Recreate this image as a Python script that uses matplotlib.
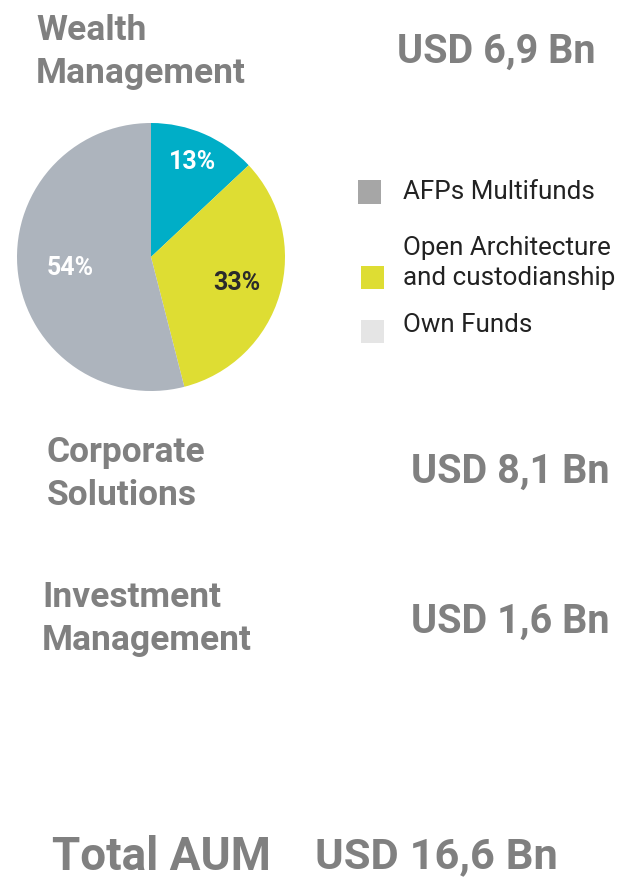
import matplotlib
matplotlib.use("Agg")
import matplotlib.pyplot as plt
import numpy as np
from matplotlib.patches import Rectangle

W, H = 629, 878

# Data
pie_labels = ["Own Funds", "Open Architecture\nand custodianship", "AFPs Multifunds"]
pie_values = [13, 33, 54]
pie_colors = ["#00AEC7", "#DEDD33", "#ADB4BD"]
pct_colors = ["white", "#2b2b2b", "white"]
pct_dist = [0.78, 0.67, 0.61]

legend_labels = ["AFPs Multifunds", "Open Architecture\nand custodianship", "Own Funds"]
legend_colors = ["#A6A6A6", "#DEDD33", "#E5E5E5"]

segments = ["Wealth\nManagement", "Corporate\nSolutions", "Investment\nManagement"]
segment_aum = ["USD 6,9 Bn", "USD 8,1 Bn", "USD 1,6 Bn"]
total_label = "Total AUM"
total_aum = "USD 16,6 Bn"

GREY = "#808080"
FONT = "Roboto"

fig = plt.figure(figsize=(W / 100, H / 100), dpi=100)
fig.patch.set_facecolor("white")


def fx(x):
    return x / W


def fy(y):
    return 1 - y / H


# Pie
cx, cy, r = 151, 258, 134
ax = fig.add_axes([fx(cx - r), fy(cy + r), 2 * r / W, 2 * r / H])
wedges, _ = ax.pie(pie_values, colors=pie_colors, startangle=90, counterclock=False,
                   wedgeprops=dict(linewidth=0))
ax.set_xlim(-1, 1)
ax.set_ylim(-1, 1)
ax.set_aspect("auto")
ax.axis("off")
for w, v, c, d in zip(wedges, pie_values, pct_colors, pct_dist):
    ang = np.deg2rad((w.theta1 + w.theta2) / 2)
    ax.text(d * np.cos(ang), d * np.sin(ang), f"{v}%", color=c, fontsize=18,
            fontweight="bold", family=FONT, ha="center", va="center")

# Legend
leg_y = [193, 278, 332]
leg_text_y = [192, 263, 325]
leg_x = [358, 361, 361]
for lab, col, y, ty, x in zip(legend_labels, legend_colors, leg_y, leg_text_y, leg_x):
    fig.patches.append(Rectangle((fx(x), fy(y + 11.5)), 23 / W, 23 / H,
                                 transform=fig.transFigure, facecolor=col,
                                 edgecolor="none"))
    fig.text(fx(403), fy(ty), lab, fontsize=18.7, family=FONT, color="#222222",
             ha="left", va="center", linespacing=1.35)

# Segment titles
title_pos = [(36, 52), (47, 474), (42, 619)]
value_pos = [(397, 52), (411, 472), (411, 622)]
for t, v, (tx, ty), (vx, vy) in zip(segments, segment_aum, title_pos, value_pos):
    fig.text(fx(tx), fy(ty), t, fontsize=25.5, fontweight="bold", family=FONT,
             color=GREY, ha="left", va="center", linespacing=1.4)
    fig.text(fx(vx), fy(vy), v, fontsize=28.5, fontweight="bold", family=FONT,
             color=GREY, ha="left", va="center")

fig.text(fx(52), fy(857), total_label, fontsize=33, fontweight="bold", family=FONT,
         color=GREY, ha="left", va="center")
fig.text(fx(315), fy(857), total_aum, fontsize=31.3, fontweight="bold", family=FONT,
         color=GREY, ha="left", va="center")

fig.savefig("out.png", dpi=100, facecolor="white")
